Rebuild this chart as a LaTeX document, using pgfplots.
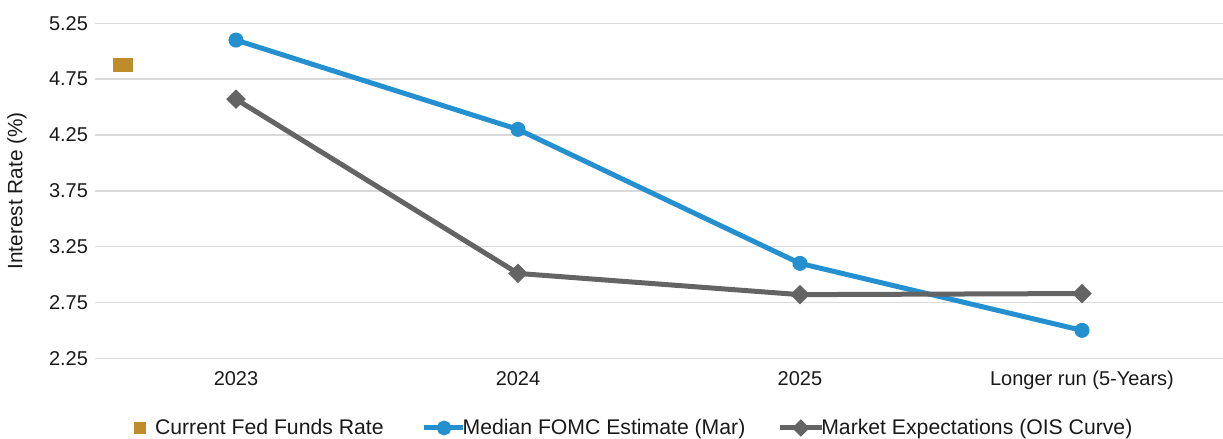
\documentclass[border=0pt]{standalone}
\usepackage{pgfplots}
\pgfplotsset{compat=1.18}
\usepackage{fontspec}
\setmainfont{Liberation Sans}
\definecolor{fomc}{HTML}{2490D0}
\definecolor{ois}{HTML}{646464}
\definecolor{gold}{HTML}{BF8C2C}
\definecolor{gridc}{HTML}{D9D9D9}
\begin{document}
\begin{tikzpicture}
\begin{axis}[
  scale only axis, width=564pt, height=167.5pt,
  xmin=-0.5, xmax=3.5, ymin=2.25, ymax=5.25,
  axis line style={draw=none}, tick style={draw=none},
  xtick={0,1,2,3},
  xticklabels={2023,2024,2025,{Longer run (5-Years)}},
  xticklabel style={yshift=-3pt},
  ytick={2.25,2.75,3.25,3.75,4.25,4.75,5.25},
  yticklabel style={/pgf/number format/.cd, fixed, fixed zerofill, precision=2},
  /pgf/number format/assume math mode=true,
  ymajorgrids, grid style={gridc, line width=0.7pt},
  tick label style={font=\fontsize{10}{12}\selectfont, text=black!90},
  ylabel={Interest Rate (\%)},
  every axis y label/.style={at={(axis description cs:-0.0691,0.5)}, anchor=center, rotate=90, font=\fontsize{10.4}{12}\selectfont, text=black!90},
  clip=false,
  legend columns=3,
  legend style={at={(axis description cs:0.479,-0.208)}, anchor=center, draw=none, fill=none,
    font=\fontsize{10.6}{12}\selectfont, text=black!90,
    /tikz/column 2/.style={column sep=17pt},
    /tikz/column 4/.style={column sep=14pt}},
  legend cell align=left,
]
\addplot[gold, only marks, mark=square*, mark size=3.1pt, mark options={xscale=1.55, line width=0pt},
  legend image code/.code={\fill[gold] (0pt,-2.6pt) rectangle (5.2pt,2.6pt); \path (8pt,0pt);}]
  coordinates {(-0.4,4.875)};
\addlegendentry{Current Fed Funds Rate}
\addplot[fomc, line width=2.5pt, mark=*, mark size=3.5pt, mark options={line width=0.5pt},
  legend image code/.code={\draw[fomc, line width=2.5pt, overlay] (0pt,0pt) -- (19.5pt,0pt); \fill[fomc, overlay] (10pt,0pt) circle (2.4pt); \path (0pt,-3pt) (16pt,3pt);}]
  coordinates {(0,5.1) (1,4.3) (2,3.1) (3,2.5)};
\addlegendentry{Median FOMC Estimate (Mar)}
\addplot[ois, line width=2.5pt, mark=square*, mark size=3.2pt, mark options={rotate=45, line width=0.5pt},
  legend image code/.code={\draw[ois, line width=2.5pt, overlay] (0pt,0pt) -- (21pt,0pt); \fill[ois, overlay] (10.5pt,0pt) +(0,2.6pt) -- +(2.6pt,0) -- +(0,-2.6pt) -- +(-2.6pt,0) -- cycle; \path (0pt,-3pt) (17.5pt,3pt);}]
  coordinates {(0,4.57) (1,3.01) (2,2.82) (3,2.83)};
\addlegendentry{Market Expectations (OIS Curve)}
\end{axis}
\pgfresetboundingbox
\path[use as bounding box] (-47.5pt,-40.35pt) rectangle (564pt,179.15pt);
\end{tikzpicture}
\end{document}
